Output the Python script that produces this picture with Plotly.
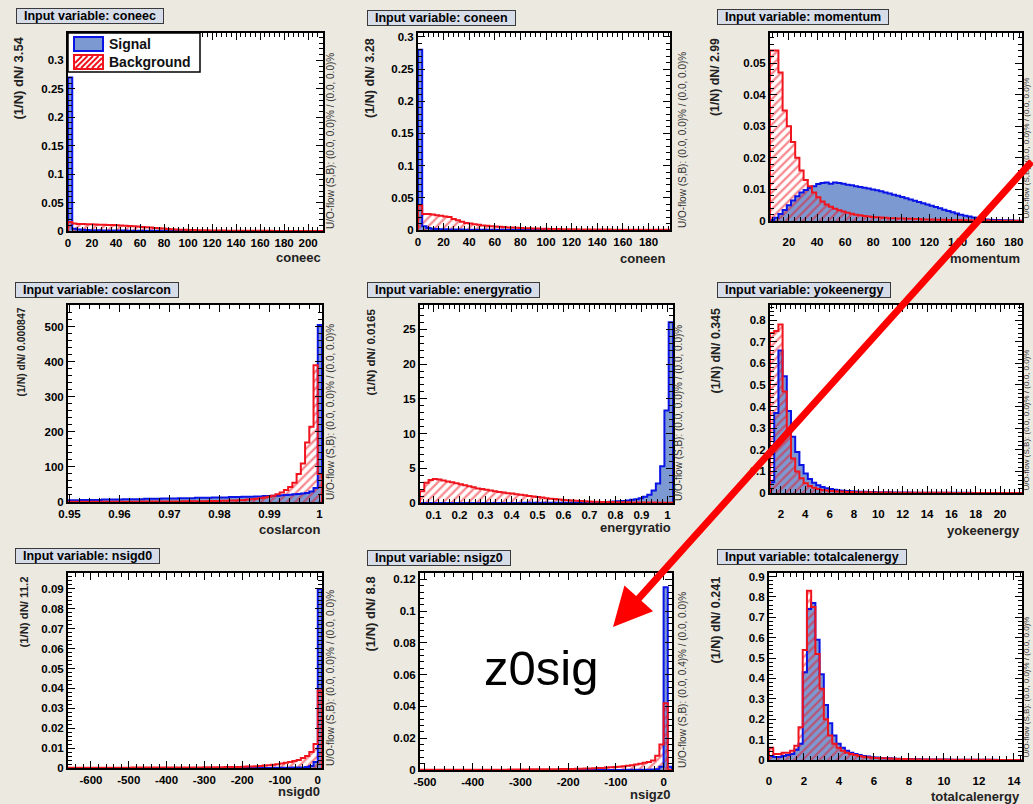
import plotly.graph_objects as go

# ------------------------------------------------------------------ data
VARIABLES = ["coneec", "coneen", "momentum",
             "coslarcon", "energyratio", "yokeenergy",
             "nsigd0", "nsigz0", "totalcalenergy"]
BIN_WIDTHS = [3.54, 3.28, 2.99, 0.000847, 0.0165, 0.345, 11.2, 8.8, 0.241]
BIN_WIDTH_LABELS = ["3.54", "3.28", "2.99", "0.000847", "0.0165", "0.345", "11.2", "8.8", "0.241"]
BIN_STARTS = [0.0, 0.0, 6.5, 0.9497, 0.048, 1.1, -660.8, -510.4, 0.0]
Y_MAX = [0.348, 0.306, 0.0595, 562, 28.5, 0.87, 0.098, 0.124, 0.917]
UO_FLOW = ["(0.0, 0.0)% / (0.0, 0.0)%", "(0.0, 0.0)% / (0.0, 0.0)%", "(0.0, 0.0)% / (0.0, 0.0)%",
           "(0.0, 0.0)% / (0.0, 0.0)%", "(0.0, 0.0)% / (0.0, 0.0)%", "(0.0, 0.0)% / (0.0, 0.0)%",
           "(0.0, 0.0)% / (0.0, 0.0)%", "(0.0, 0.4)% / (0.0, 0.0)%", "(0.0, 0.0)% / (0.0, 0.0)%"]
LEGEND_NAMES = ["Signal", "Background"]

CONEEC_SIG = [0.270, 0.004, 0.0025, 0.002, 0.0016, 0.0014, 0.0012, 0.0011, 0.001, 0.0009,
              0.0008, 0.0008, 0.0007, 0.0007, 0.0006, 0.0006, 0.0005, 0.0005, 0.0005, 0.0004,
              0.0004, 0.0004, 0.0003, 0.0003, 0.0003, 0.0003, 0.0002, 0.0002, 0.0002, 0.0002,
              0.0002, 0.0002, 0.0001, 0.0001, 0.0001, 0.0001, 0.0001, 0.0001, 0.0001, 0.0001,
              0.0001, 0.0001, 0.0001, 0.0001, 0.0001, 0.0001, 0.0001, 0.0001, 0.0001, 0.0001,
              0.0, 0.0, 0.0, 0.0, 0.0, 0.0, 0.0, 0.0, 0.0, 0.0]
CONEEC_BKG = [0.016, 0.013, 0.0125, 0.0122, 0.012, 0.0118, 0.0115, 0.0112, 0.011, 0.0107,
              0.0104, 0.010, 0.0096, 0.0092, 0.0088, 0.0083, 0.0078, 0.0072, 0.0066, 0.006,
              0.0054, 0.0048, 0.0042, 0.0037, 0.0032, 0.0028, 0.0024, 0.0021, 0.0018, 0.0016,
              0.0014, 0.0012, 0.0011, 0.001, 0.0009, 0.0008, 0.0007, 0.0006, 0.0006, 0.0005,
              0.0005, 0.0004, 0.0004, 0.0004, 0.0003, 0.0003, 0.0003, 0.0003, 0.0002, 0.0002,
              0.0002, 0.0002, 0.0002, 0.0001, 0.0001, 0.0001, 0.0001, 0.0001, 0.0001, 0.0001]

CONEEN_SIG = [0.280, 0.006, 0.003, 0.002, 0.0015, 0.0012, 0.001, 0.0009, 0.0008, 0.0007,
              0.0006, 0.0005, 0.0005, 0.0004, 0.0004, 0.0003, 0.0003, 0.0003, 0.0002, 0.0002,
              0.0002, 0.0002, 0.0002, 0.0001, 0.0001, 0.0001, 0.0001, 0.0001, 0.0001, 0.0001,
              0.0001, 0.0001, 0.0001, 0.0001, 0.0001, 0.0001, 0.0, 0.0, 0.0, 0.0,
              0.0, 0.0, 0.0, 0.0, 0.0, 0.0, 0.0, 0.0, 0.0, 0.0,
              0.0, 0.0, 0.0, 0.0, 0.0, 0.0, 0.0, 0.0, 0.0, 0.0]
CONEEN_BKG = [0.038, 0.025, 0.025, 0.024, 0.023, 0.022, 0.021, 0.020, 0.017, 0.015,
              0.013, 0.011, 0.010, 0.009, 0.008, 0.007, 0.0065, 0.006, 0.0055, 0.005,
              0.0045, 0.004, 0.0037, 0.0034, 0.003, 0.0028, 0.0026, 0.0024, 0.0022, 0.002,
              0.0019, 0.0017, 0.0016, 0.0014, 0.0013, 0.0012, 0.0011, 0.001, 0.0009, 0.0009,
              0.0008, 0.0008, 0.0007, 0.0007, 0.0006, 0.0006, 0.0005, 0.0005, 0.0005, 0.0004,
              0.0004, 0.0004, 0.0003, 0.0003, 0.0003, 0.0003, 0.0002, 0.0002, 0.0002, 0.0002]

MOMENTUM_SIG = [0.0003, 0.001, 0.0022, 0.0035, 0.005, 0.0065, 0.0078, 0.009, 0.0098, 0.0105,
                0.011, 0.0117, 0.012, 0.0122, 0.0118, 0.0122, 0.012, 0.0118, 0.0115, 0.0113,
                0.011, 0.0108, 0.0105, 0.0103, 0.010, 0.0097, 0.0094, 0.009, 0.0087, 0.0083,
                0.008, 0.0076, 0.0072, 0.0068, 0.0064, 0.006, 0.0056, 0.0052, 0.0048, 0.0044,
                0.004, 0.0036, 0.0032, 0.0028, 0.0024, 0.002, 0.0017, 0.0014, 0.0011, 0.0009,
                0.0007, 0.0005, 0.0004, 0.0003, 0.0003, 0.0002, 0.0002, 0.0002, 0.0001, 0.0001]
MOMENTUM_BKG = [0.054, 0.054, 0.047, 0.035, 0.030, 0.025, 0.020, 0.016, 0.013, 0.011,
                0.009, 0.0075, 0.0062, 0.0052, 0.0045, 0.0039, 0.0034, 0.003, 0.0026, 0.0023,
                0.002, 0.0018, 0.0016, 0.0014, 0.0013, 0.0012, 0.0011, 0.001, 0.0009, 0.0009,
                0.0008, 0.0008, 0.0007, 0.0007, 0.0006, 0.0006, 0.0005, 0.0005, 0.0005, 0.0004,
                0.0004, 0.0004, 0.0003, 0.0003, 0.0003, 0.0003, 0.0002, 0.0002, 0.0002, 0.0002,
                0.0002, 0.0002, 0.0001, 0.0001, 0.0001, 0.0001, 0.0001, 0.0001, 0.0001, 0.0001]

COSLARCON_SIG = [5, 5, 5, 6, 6, 6, 6, 6, 7, 7,
                 7, 7, 7, 8, 8, 8, 8, 8, 9, 9,
                 9, 9, 10, 10, 10, 10, 11, 11, 11, 11,
                 12, 12, 12, 12, 13, 13, 13, 13, 14, 14,
                 14, 15, 15, 15, 16, 16, 17, 17, 18, 18,
                 19, 20, 21, 22, 23, 24, 26, 30, 40, 505]
COSLARCON_BKG = [0.5, 0.5, 0.5, 0.5, 0.6, 0.6, 0.6, 0.7, 0.7, 0.7,
                 0.8, 0.8, 0.8, 0.9, 0.9, 1.0, 1.0, 1.1, 1.1, 1.2,
                 1.2, 1.3, 1.4, 1.4, 1.5, 1.6, 1.7, 1.8, 1.9, 2.0,
                 2.1, 2.2, 2.4, 2.6, 2.8, 3.0, 3.3, 3.6, 4.0, 4.5,
                 5.0, 6.0, 7.0, 8.0, 9.0, 11, 13, 15, 18, 22,
                 27, 34, 43, 55, 80, 110, 170, 215, 390, 80]

ENERGYRATIO_SIG = [0.01, 0.01, 0.01, 0.01, 0.01, 0.01, 0.01, 0.01, 0.01, 0.01,
                   0.01, 0.01, 0.01, 0.01, 0.01, 0.01, 0.01, 0.01, 0.01, 0.01,
                   0.015, 0.015, 0.015, 0.015, 0.02, 0.02, 0.02, 0.025, 0.025,
                   0.025, 0.03, 0.03, 0.035, 0.04, 0.045, 0.05, 0.055, 0.06, 0.07,
                   0.08, 0.09, 0.10, 0.12, 0.14, 0.17, 0.20, 0.25, 0.30, 0.37,
                   0.45, 0.55, 0.70, 0.90, 1.2, 1.8, 2.8, 5.3, 13.3, 26.0]
ENERGYRATIO_BKG = [1.7, 2.9, 3.3, 3.45, 3.4, 3.25, 3.1, 3.0, 2.85, 2.7,
                   2.55, 2.4, 2.25, 2.1, 2.0, 1.9, 1.8, 1.7, 1.6, 1.5,
                   1.42, 1.35, 1.25, 1.18, 1.1, 1.0, 0.92, 0.85, 0.78, 0.7,
                   0.62, 0.56, 0.5, 0.44, 0.4, 0.35, 0.31, 0.27, 0.24, 0.21,
                   0.19, 0.17, 0.15, 0.14, 0.13, 0.12, 0.11, 0.10, 0.09, 0.085,
                   0.08, 0.07, 0.065, 0.06, 0.055, 0.05, 0.05, 0.04, 0.02]

YOKEENERGY_SIG = [0.05, 0.37, 0.66, 0.54, 0.38, 0.26, 0.19, 0.13, 0.09, 0.065,
                  0.048, 0.036, 0.028, 0.022, 0.018, 0.015, 0.012, 0.010, 0.009, 0.008,
                  0.007, 0.006, 0.0055, 0.005, 0.0045, 0.004, 0.0035, 0.003, 0.003, 0.0025,
                  0.0025, 0.002, 0.002, 0.002, 0.0015, 0.0015, 0.0015, 0.001, 0.001, 0.001,
                  0.001, 0.001, 0.0008, 0.0008, 0.0008, 0.0006, 0.0006, 0.0006, 0.0005, 0.0005,
                  0.0005, 0.0004, 0.0004, 0.0004, 0.0003, 0.0003, 0.0003, 0.0002, 0.0002, 0.0002]
YOKEENERGY_BKG = [0.74, 0.75, 0.78, 0.47, 0.27, 0.16, 0.10, 0.068, 0.045, 0.032,
                  0.024, 0.018, 0.014, 0.011, 0.009, 0.008, 0.007, 0.006, 0.005, 0.0045,
                  0.004, 0.0035, 0.003, 0.003, 0.0025, 0.0025, 0.002, 0.002, 0.002, 0.0015,
                  0.0015, 0.0015, 0.001, 0.001, 0.001, 0.001, 0.001, 0.0008, 0.0008, 0.0008,
                  0.0006, 0.0006, 0.0006, 0.0005, 0.0005, 0.0005, 0.0004, 0.0004, 0.0004, 0.0003,
                  0.0003, 0.0003, 0.0002, 0.0002, 0.0002, 0.0002, 0.0001, 0.0001, 0.0001, 0.0001]

NSIGD0_SIG = [0.0, 0.0, 0.0, 0.0, 0.0, 0.0, 0.0, 0.0, 0.0, 0.0,
              0.0, 0.0, 0.0, 0.0, 0.0, 0.0, 0.0, 0.0, 0.0, 0.0,
              0.0, 0.0, 0.0, 0.0, 0.0, 0.0, 0.0, 0.0, 0.0, 0.0,
              0.0, 0.0, 0.0, 0.0, 0.0, 0.0, 0.0, 0.0, 0.0, 0.0,
              0.0, 0.0, 0.0, 0.0, 0.0, 0.0, 0.0, 0.0, 0.0, 0.0001,
              0.0001, 0.0001, 0.0001, 0.0002, 0.0002, 0.0003, 0.0005, 0.001, 0.003, 0.090]
NSIGD0_BKG = [0.0001, 0.0001, 0.0001, 0.0001, 0.0001, 0.0001, 0.0001, 0.0001, 0.0001, 0.0001,
              0.0001, 0.0001, 0.0001, 0.0001, 0.0001, 0.0002, 0.0002, 0.0002, 0.0002, 0.0002,
              0.0002, 0.0002, 0.0002, 0.0002, 0.0002, 0.0003, 0.0003, 0.0003, 0.0003, 0.0003,
              0.0003, 0.0003, 0.0004, 0.0004, 0.0004, 0.0004, 0.0004, 0.0005, 0.0005, 0.0005,
              0.0005, 0.0006, 0.0007, 0.0008, 0.0009, 0.001, 0.0012, 0.0014, 0.0016, 0.0019,
              0.0022, 0.0026, 0.003, 0.0035, 0.004, 0.005, 0.006, 0.008, 0.012, 0.039]

NSIGZ0_SIG = [0.0, 0.0, 0.0, 0.0, 0.0, 0.0, 0.0, 0.0, 0.0, 0.0,
              0.0, 0.0, 0.0, 0.0, 0.0, 0.0, 0.0, 0.0, 0.0, 0.0,
              0.0, 0.0, 0.0, 0.0, 0.0, 0.0, 0.0, 0.0, 0.0, 0.0,
              0.0, 0.0, 0.0, 0.0, 0.0, 0.0, 0.0, 0.0, 0.0, 0.0,
              0.0, 0.0, 0.0, 0.0, 0.0, 0.0, 0.0, 0.0, 0.0, 0.0001,
              0.0001, 0.0001, 0.0001, 0.0002, 0.0002, 0.0003, 0.0005, 0.002, 0.115, 0.002]
NSIGZ0_BKG = [0.0001, 0.0001, 0.0001, 0.0001, 0.0001, 0.0001, 0.0001, 0.0001, 0.0001, 0.0001,
              0.0001, 0.0001, 0.0001, 0.0002, 0.0002, 0.0002, 0.0002, 0.0002, 0.0002, 0.0002,
              0.0002, 0.0003, 0.0003, 0.0003, 0.0003, 0.0003, 0.0004, 0.0004, 0.0004, 0.0004,
              0.0005, 0.0005, 0.0005, 0.0006, 0.0006, 0.0007, 0.0007, 0.0008, 0.0008, 0.0009,
              0.001, 0.0011, 0.0012, 0.0013, 0.0015, 0.0017, 0.0019, 0.0021, 0.0024, 0.0027,
              0.003, 0.0035, 0.004, 0.0045, 0.005, 0.006, 0.009, 0.016, 0.042, 0.0]

TOTALCALENERGY_SIG = [0.02, 0.015, 0.015, 0.02, 0.025, 0.03, 0.05, 0.08, 0.43, 0.74,
                      0.77, 0.59, 0.42, 0.27, 0.18, 0.12, 0.08, 0.06, 0.045, 0.035,
                      0.03, 0.025, 0.02, 0.017, 0.014, 0.012, 0.01, 0.009, 0.008, 0.007,
                      0.006, 0.0055, 0.005, 0.0045, 0.004, 0.0035, 0.003, 0.003, 0.0025, 0.0025,
                      0.002, 0.002, 0.002, 0.0015, 0.0015, 0.0015, 0.001, 0.001, 0.001, 0.001,
                      0.001, 0.0008, 0.0008, 0.0008, 0.0006, 0.0006, 0.0006, 0.0005, 0.0005, 0.0005]
TOTALCALENERGY_BKG = [0.06, 0.03, 0.03, 0.035, 0.035, 0.045, 0.07, 0.16, 0.54, 0.83,
                      0.75, 0.52, 0.35, 0.20, 0.12, 0.08, 0.06, 0.045, 0.035, 0.03,
                      0.025, 0.02, 0.016, 0.013, 0.011, 0.01, 0.009, 0.008, 0.007, 0.006,
                      0.0055, 0.005, 0.0045, 0.004, 0.0035, 0.003, 0.003, 0.0025, 0.0025, 0.002,
                      0.002, 0.002, 0.0015, 0.0015, 0.0015, 0.001, 0.001, 0.001, 0.001, 0.001,
                      0.0008, 0.0008, 0.0008, 0.0006, 0.0006, 0.0006, 0.0005, 0.0005, 0.0005, 0.0005]

SIGNALS = [CONEEC_SIG, CONEEN_SIG, MOMENTUM_SIG, COSLARCON_SIG, ENERGYRATIO_SIG,
           YOKEENERGY_SIG, NSIGD0_SIG, NSIGZ0_SIG, TOTALCALENERGY_SIG]
BACKGROUNDS = [CONEEC_BKG, CONEEN_BKG, MOMENTUM_BKG, COSLARCON_BKG, ENERGYRATIO_BKG,
               YOKEENERGY_BKG, NSIGD0_BKG, NSIGZ0_BKG, TOTALCALENERGY_BKG]

X_DTICK = [20, 20, 20, 0.01, 0.1, 2, 100, 100, 2]
Y_DTICK = [0.05, 0.05, 0.01, 100, 5, 0.1, 0.01, 0.02, 0.1]
NSIGD0_TICKS = [-600, -500, -400, -300, -200, -100, 0]
NSIGD0_TICKTEXT = ["-600", "-500", "-400", "-300", "-200", "-100", "0"]
NSIGZ0_TICKS = [-500, -400, -300, -200, -100, 0]
NSIGZ0_TICKTEXT = ["-500", "-400", "-300", "-200", "-100", "0"]

ANNOTATION_LABEL = "z0sig"

# ------------------------------------------------------------------ style / layout
W, H = 1033, 804
FONT = "Liberation Sans, Arial, Helvetica, sans-serif"
SIG_FILL = "#7D99D1"
SIG_LINE = "#0A14E6"
BKG_LINE = "#F0141E"
PAPER = "#ECE9E0"
NBSP = "\u00a0"

# frame boxes in pixels: left, right, top, bottom
FRAMES = [(68, 323, 33, 231), (418, 670, 33, 230), (770, 1022, 33, 221),
          (68, 322, 305, 502), (420, 673, 305, 503), (770, 1022, 305, 493),
          (68, 322, 573, 768), (420, 672, 573, 770), (769, 1022, 573, 760)]
TITLE_POS = [(16, 8), (367, 10), (717, 9), (15, 282), (367, 282), (717, 282),
             (15, 548), (367, 550), (717, 549)]
YTITLE_POS = [(18, 35), (370, 36), (715, 36), (21, 306), (370, 307), (715, 307),
              (23, 575), (370, 575), (715, 575)]
YTITLE_SIZE = [13, 12.6, 12.3, 10.4, 11.6, 12.4, 11.3, 13, 12.6]
XTITLE_POS = [(323, 258), (668, 259), (1022, 259), (322, 529), (673, 527), (1022, 530),
              (322, 791), (672, 794), (1022, 796)]
UO_X = [330, 683, 1032.5, 330, 678, 1032.5, 330, 682, 1032.5]


def px(x):
    return x / W


def py(y):
    return 1 - y / H


fig = go.Figure()
annotations = []
shapes = []
layout = dict(width=W, height=H, margin=dict(l=0, r=0, t=0, b=0, pad=0), autosize=False,
              paper_bgcolor=PAPER, plot_bgcolor="white", barmode="overlay", bargap=0,
              showlegend=False, font=dict(family=FONT, color="black"))

for i, var in enumerate(VARIABLES):
    n = i + 1
    xs = "x" if n == 1 else f"x{n}"
    ys = "y" if n == 1 else f"y{n}"
    sig = SIGNALS[i]
    bkg = BACKGROUNDS[i]
    w = BIN_WIDTHS[i]
    x0 = BIN_STARTS[i]
    nb = len(sig)
    edges = [x0 + k * w for k in range(nb + 1)]
    centers = [x0 + (k + 0.5) * w for k in range(nb)]

    fig.add_trace(go.Bar(x=centers, y=sig, width=w, xaxis=xs, yaxis=ys, name=LEGEND_NAMES[0],
                         marker=dict(color=SIG_FILL, line=dict(width=0)), hoverinfo="skip"))
    fig.add_trace(go.Bar(x=centers, y=bkg, width=w, xaxis=xs, yaxis=ys, name=LEGEND_NAMES[1],
                         marker=dict(color="rgba(0,0,0,0)", line=dict(width=0),
                                     pattern=dict(shape="/", fgcolor=BKG_LINE,
                                                  bgcolor="rgba(0,0,0,0)", size=6,
                                                  solidity=0.38)),
                         hoverinfo="skip"))
    fig.add_trace(go.Scatter(x=[edges[0]] + edges, y=[0] + list(sig) + [0], xaxis=xs, yaxis=ys,
                             mode="lines", line=dict(color=SIG_LINE, width=2, shape="hv"),
                             hoverinfo="skip"))
    fig.add_trace(go.Scatter(x=[edges[0]] + edges, y=[0] + list(bkg) + [0], xaxis=xs, yaxis=ys,
                             mode="lines", line=dict(color=BKG_LINE, width=2, shape="hv"),
                             hoverinfo="skip"))

    L, R, T, B = FRAMES[i]
    tickfont = dict(family=FONT, size=11.5, color="black", weight="bold")
    common = dict(showgrid=False, zeroline=False, showline=True, linecolor="black",
                  linewidth=2, mirror="allticks", ticks="inside", ticklen=7, tickwidth=1,
                  tickcolor="black", tickfont=tickfont, automargin=False)
    xaxis = dict(common, domain=[px(L), px(R)], anchor=ys, range=[edges[0], edges[-1]],
                 minor=dict(ticks="inside", ticklen=4, tickwidth=1, tickcolor="black",
                            dtick=X_DTICK[i] / 5, showgrid=False))
    if var == "nsigd0":
        xaxis.update(tickmode="array", tickvals=NSIGD0_TICKS, ticktext=NSIGD0_TICKTEXT)
    elif var == "nsigz0":
        xaxis.update(tickmode="array", tickvals=NSIGZ0_TICKS, ticktext=NSIGZ0_TICKTEXT)
    else:
        xaxis.update(tick0=0, dtick=X_DTICK[i])
    if i % 3 == 2:
        xaxis.update(ticklabelstandoff=9)
    yaxis = dict(common, domain=[py(B), py(T)], anchor=xs, range=[0, Y_MAX[i]],
                 tick0=0, dtick=Y_DTICK[i],
                 minor=dict(ticks="inside", ticklen=4, tickwidth=1, tickcolor="black",
                            dtick=Y_DTICK[i] / 5, showgrid=False))
    layout["xaxis" if n == 1 else f"xaxis{n}"] = xaxis
    layout["yaxis" if n == 1 else f"yaxis{n}"] = yaxis

    # title box
    tx, ty = TITLE_POS[i]
    annotations.append(dict(x=px(tx), y=py(ty), xref="paper", yref="paper",
                            xanchor="left", yanchor="top", showarrow=False,
                            text=f"{NBSP}{NBSP}Input variable: {var}{NBSP}{NBSP}",
                            font=dict(family=FONT, size=12.5, color="black", weight="bold"),
                            bgcolor="#D6DCE8", bordercolor="#3A3A3A", borderwidth=1,
                            borderpad=0))
    # y-axis title
    yx, yy = YTITLE_POS[i]
    annotations.append(dict(x=px(yx), y=py(yy), xref="paper", yref="paper",
                            xanchor="center", yanchor="top", showarrow=False, textangle=-90,
                            text=f"(1/N) dN/ {BIN_WIDTH_LABELS[i]}",
                            font=dict(family=FONT, size=YTITLE_SIZE[i], color="#222",
                                      weight="bold")))
    # x-axis title
    xx, xy = XTITLE_POS[i]
    annotations.append(dict(x=px(xx), y=py(xy), xref="paper", yref="paper",
                            xanchor="right", yanchor="middle", showarrow=False,
                            text=var,
                            font=dict(family=FONT, size=13, color="#222", weight="bold")))
    # under/overflow info (the right-hand column sits against the slide edge)
    right_col = (i % 3 == 2)
    annotations.append(dict(x=px(UO_X[i]), y=py(B), xref="paper", yref="paper",
                            xanchor="right" if right_col else "center", yanchor="bottom",
                            showarrow=False, textangle=-90,
                            text=f"U/O-flow (S,B): {UO_FLOW[i]}",
                            font=dict(family=FONT, size=8 if right_col else 10, color="#333")))


# legend box (top-left of the first panel)
def rect(x0, y0, x1, y1, **kw):
    return dict(type="rect", xref="paper", yref="paper",
                x0=px(x0), x1=px(x1), y0=py(y1), y1=py(y0), **kw)


shapes.append(rect(68, 33, 200, 72, fillcolor="white", line=dict(color="black", width=1.5)))
shapes.append(rect(74, 37, 103, 51, fillcolor=SIG_FILL, line=dict(color=SIG_LINE, width=2)))
shapes.append(rect(74, 55, 103, 69, fillcolor="white", line=dict(color=BKG_LINE, width=2)))
for k in range(6):
    xa = 70 + 5.5 * k
    xb = xa + 12
    ya, yb = 68.0, 56.0
    if xa < 75:
        ya = 68.0 - (75 - xa)
        xa = 75
    if xb > 102:
        yb = 56.0 + (xb - 102)
        xb = 102
    if xb > xa:
        shapes.append(dict(type="line", xref="paper", yref="paper",
                           x0=px(xa), y0=py(ya), x1=px(xb), y1=py(yb),
                           line=dict(color=BKG_LINE, width=2)))
annotations.append(dict(x=px(107), y=py(44), xref="paper", yref="paper",
                        xanchor="left", yanchor="middle", showarrow=False,
                        text=LEGEND_NAMES[0],
                        font=dict(family=FONT, size=14, color="#111", weight="bold")))
annotations.append(dict(x=px(107), y=py(62), xref="paper", yref="paper",
                        xanchor="left", yanchor="middle", showarrow=False,
                        text=LEGEND_NAMES[1],
                        font=dict(family=FONT, size=14, color="#111", weight="bold")))

# red arrow and label
tip_x, tip_y = 613, 627
annotations.append(dict(x=px(tip_x), y=py(tip_y), xref="paper", yref="paper",
                        ax=1042 - tip_x, ay=160 - tip_y, text="", showarrow=True,
                        arrowhead=2, arrowsize=1.1, arrowwidth=7, arrowcolor="#FF0000"))
annotations.append(dict(x=px(541), y=py(668), xref="paper", yref="paper",
                        xanchor="center", yanchor="middle", showarrow=False,
                        text=ANNOTATION_LABEL,
                        font=dict(family=FONT, size=49, color="black")))

layout["annotations"] = annotations
layout["shapes"] = shapes
fig.update_layout(**layout)
fig.write_html("out.html")
